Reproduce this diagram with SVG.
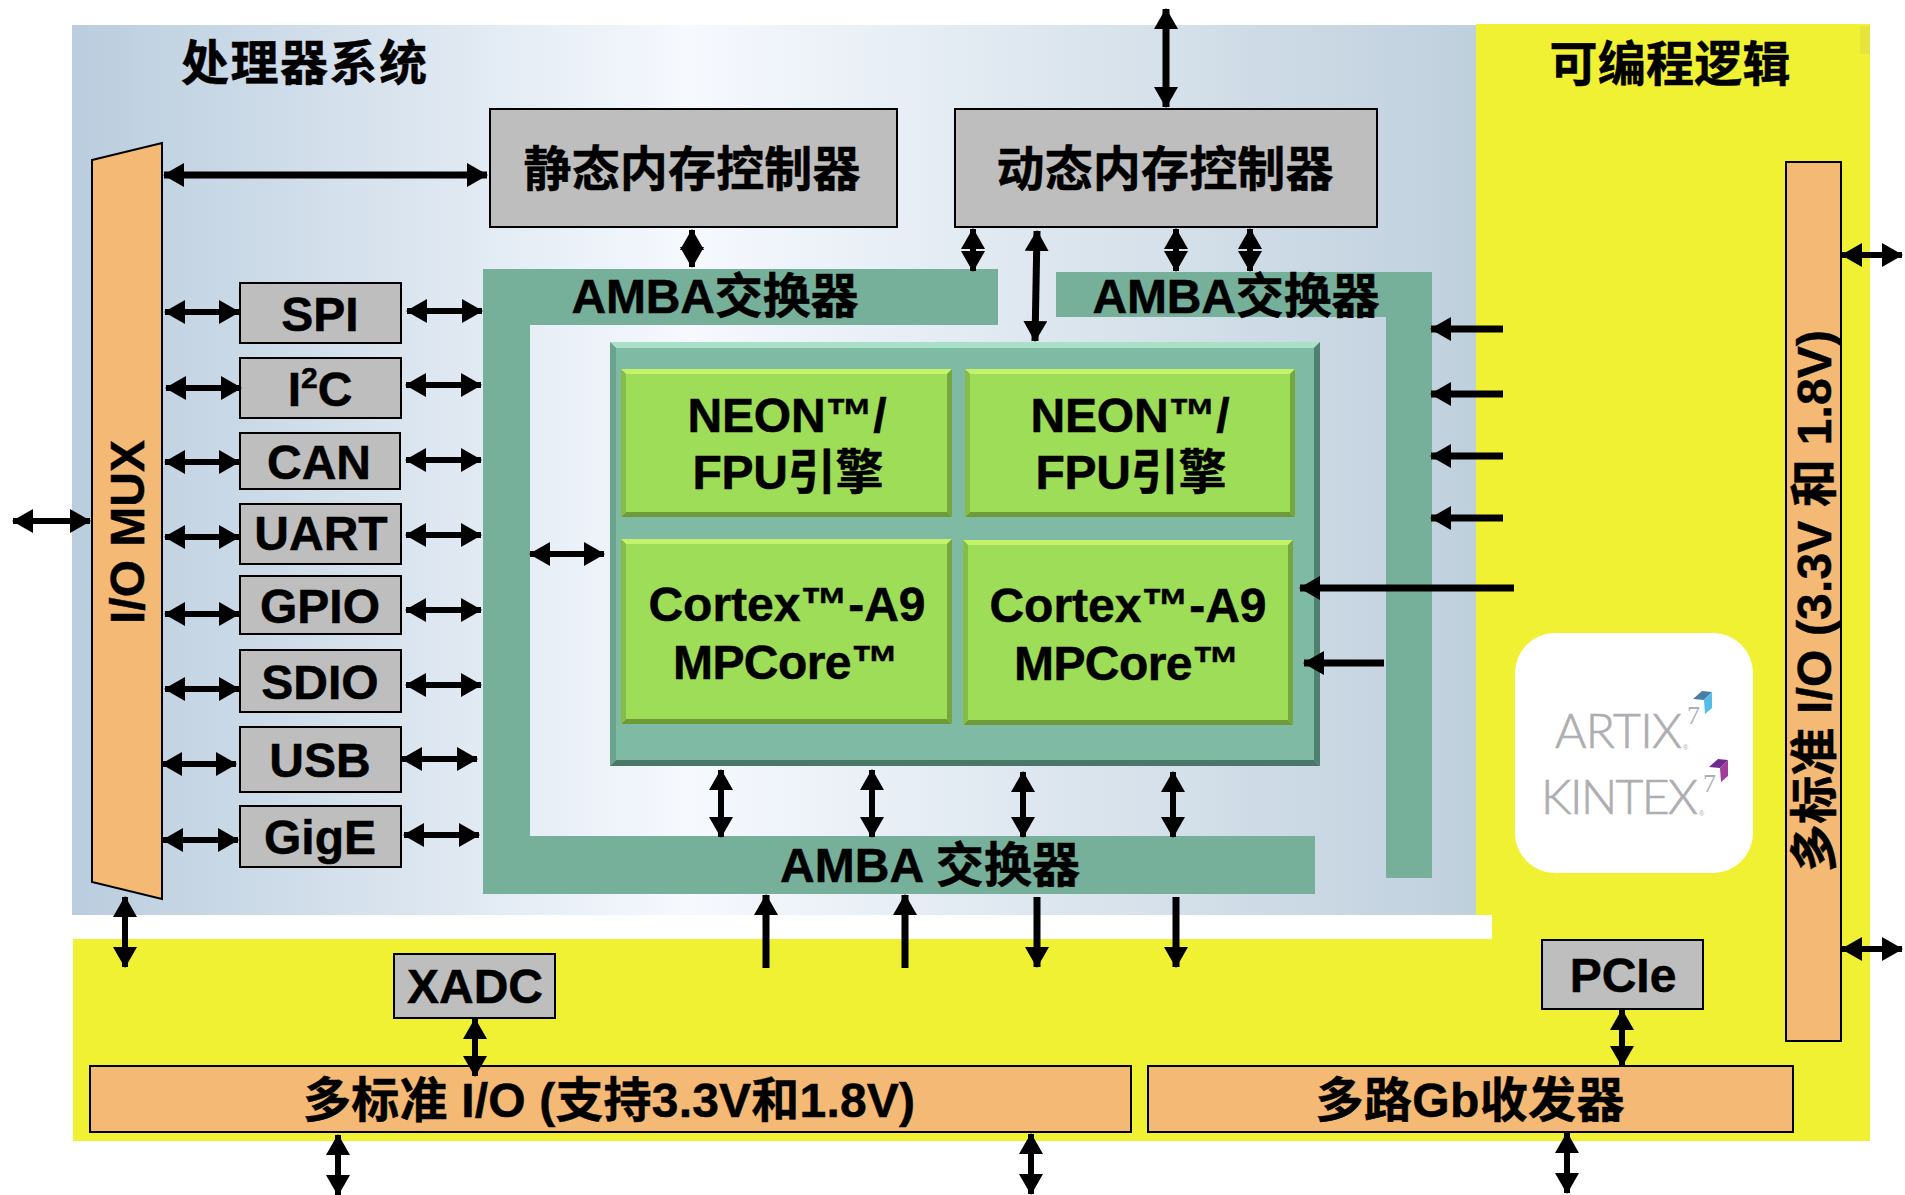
<svg xmlns="http://www.w3.org/2000/svg" width="1905" height="1195" viewBox="0 0 1905 1195">
<defs>
<linearGradient id="ps" x1="0" x2="1" y1="0" y2="0"><stop offset="0" stop-color="#bacdde"/><stop offset="0.44" stop-color="#f6f9fe"/><stop offset="1" stop-color="#bfd0dd"/></linearGradient>
<marker id="h" markerUnits="userSpaceOnUse" markerWidth="22" markerHeight="24" refX="20" refY="12" orient="auto-start-reverse"><polygon points="0,0 21,12 0,24" fill="#000"/></marker>
</defs>
<style>
text{font-family:"Liberation Sans","Noto Sans CJK SC",sans-serif;font-weight:700;fill:#000;stroke:#000;stroke-width:.5px;font-size:48px;text-anchor:middle}
.box{fill:#bebebe;stroke:#000;stroke-width:2}
.org{fill:#f4b974;stroke:#000;stroke-width:2}
.amba{fill:#76b09a}
.green{fill:#9edd57}
.a{stroke:#000;stroke-width:6;fill:none;marker-start:url(#h);marker-end:url(#h)}
.e{stroke:#000;stroke-width:6;fill:none;marker-end:url(#h)}
.th{stroke-width:7}
text.logo{font-family:Lato,"Liberation Sans",sans-serif;font-weight:300;fill:#aeaeb2;stroke:#aeaeb2;stroke-width:.7px;text-anchor:start}
text.seven{font-family:"Liberation Serif",serif;font-weight:400;fill:#aeaeb2;stroke:none;font-size:26px;text-anchor:start}
text.reg{font-weight:400;fill:#aeaeb2;stroke:none;font-size:7px;text-anchor:start}
</style>

<g id="background">
<polygon fill="#f0f133" points="1476,24 1870,24 1870,1141 73,1141 73,939 1492,939 1492,915 1476,915"/>
<rect x="1860" y="26" width="10" height="28" fill="#e4e43a"/>
<rect x="72" y="25" width="1404" height="890" fill="url(#ps)"/>
</g>

<g id="ps-title"><text x="304" y="80" textLength="246">处理器系统</text></g>
<g id="pl-title"><text x="1670" y="81" textLength="241">可编程逻辑</text></g>

<g id="amba-left"><polygon class="amba" points="483,269 998,269 998,325 530,325 530,836 1315,836 1315,894 483,894"/>
<text x="715" y="313" textLength="287">AMBA交换器</text>
<text x="930" y="882" textLength="300">AMBA 交换器</text></g>
<g id="amba-right"><polygon class="amba" points="1056,272 1432,272 1432,878 1386,878 1386,317 1056,317"/>
<text x="1236" y="313" textLength="287">AMBA交换器</text></g>

<g id="cluster">
<rect x="610" y="342" width="710" height="424" fill="#7fbba4"/>
<polygon fill="#a9e0c8" points="610,342 1320,342 1314,348 616,348"/>
<polygon fill="#4a7767" points="610,766 1320,766 1314,760 616,760"/>
<polygon fill="#6ba38e" points="610,342 616,348 616,760 610,766"/>
<polygon fill="#4f7f6e" points="1320,342 1314,348 1314,760 1320,766"/>
</g>

<g id="neon-1">
<rect class="green" x="621" y="369" width="331" height="148"/>
<polygon fill="#c4f26b" points="621,369 952,369 947,374 626,374"/><polygon fill="#6f9a3a" points="621,517 952,517 947,512 626,512"/><polygon fill="#86bd49" points="621,369 626,374 626,512 621,517"/><polygon fill="#76a63e" points="952,369 947,374 947,512 952,517"/>
<text x="787" y="432" textLength="199">NEON™/</text><text x="788" y="489" textLength="191">FPU引擎</text></g>
<g id="neon-2">
<rect class="green" x="965" y="369" width="330" height="148"/>
<polygon fill="#c4f26b" points="965,369 1295,369 1290,374 970,374"/><polygon fill="#6f9a3a" points="965,517 1295,517 1290,512 970,512"/><polygon fill="#86bd49" points="965,369 970,374 970,512 965,517"/><polygon fill="#76a63e" points="1295,369 1290,374 1290,512 1295,517"/>
<text x="1130" y="432" textLength="199">NEON™/</text><text x="1131" y="489" textLength="191">FPU引擎</text></g>
<g id="cortex-1">
<rect class="green" x="621" y="539" width="331" height="185"/>
<polygon fill="#c4f26b" points="621,539 952,539 947,544 626,544"/><polygon fill="#6f9a3a" points="621,724 952,724 947,719 626,719"/><polygon fill="#86bd49" points="621,539 626,544 626,719 621,724"/><polygon fill="#76a63e" points="952,539 947,544 947,719 952,724"/>
<text x="787" y="621" textLength="277">Cortex™-A9</text><text x="786" y="679" textLength="226">MPCore™</text></g>
<g id="cortex-2">
<rect class="green" x="963" y="540" width="330" height="185"/>
<polygon fill="#c4f26b" points="963,540 1293,540 1288,545 968,545"/><polygon fill="#6f9a3a" points="963,725 1293,725 1288,720 968,720"/><polygon fill="#86bd49" points="963,540 968,545 968,720 963,725"/><polygon fill="#76a63e" points="1293,540 1288,545 1288,720 1293,725"/>
<text x="1128" y="622" textLength="277">Cortex™-A9</text><text x="1127" y="680" textLength="226">MPCore™</text></g>

<g id="io-mux"><polygon class="org" points="92,160 162,143 162,899 92,882"/>
<text transform="translate(144,532) rotate(-90)" textLength="184">I/O MUX</text></g>
<g id="sram"><rect class="box" x="490" y="109" width="407" height="118"/><text x="692" y="186" textLength="337">静态内存控制器</text></g>
<g id="dram"><rect class="box" x="955" y="109" width="422" height="118"/><text x="1165" y="186" textLength="337">动态内存控制器</text></g>
<g id="spi"><rect class="box" x="240" y="283" width="161" height="60"/><text x="320" y="331">SPI</text></g>
<g id="i2c"><rect class="box" x="240" y="358" width="161" height="60"/><text x="320" y="406">I<tspan font-size="30" dy="-18">2</tspan><tspan dy="18">C</tspan></text></g>
<g id="can"><rect class="box" x="240" y="433" width="160" height="56"/><text x="319" y="479">CAN</text></g>
<g id="uart"><rect class="box" x="240" y="504" width="161" height="60"/><text x="321" y="550">UART</text></g>
<g id="gpio"><rect class="box" x="240" y="576" width="161" height="58"/><text x="320" y="623">GPIO</text></g>
<g id="sdio"><rect class="box" x="240" y="650" width="161" height="62"/><text x="320" y="699">SDIO</text></g>
<g id="usb"><rect class="box" x="240" y="727" width="161" height="65"/><text x="320" y="777">USB</text></g>
<g id="gige"><rect class="box" x="240" y="806" width="161" height="61"/><text x="320" y="854">GigE</text></g>
<g id="xadc"><rect class="box" x="394" y="954" width="161" height="64"/><text x="475" y="1003">XADC</text></g>
<g id="pcie"><rect class="box" x="1542" y="940" width="161" height="69"/><text x="1623" y="992">PCIe</text></g>
<g id="multi-io"><rect class="org" x="90" y="1066" width="1041" height="66"/><text x="609" y="1117" textLength="612">多标准 I/O (支持3.3V和1.8V)</text></g>
<g id="gb"><rect class="org" x="1148" y="1066" width="645" height="66"/><text x="1470" y="1117" textLength="309">多路Gb收发器</text></g>
<g id="right-io"><rect class="org" x="1786" y="162" width="55" height="879"/>
<text transform="translate(1831,601) rotate(-90)" textLength="542">多标准 I/O (3.3V 和 1.8V)</text></g>

<g id="logo"><rect x="1515" y="633" width="238" height="240" rx="40" fill="#fff"/>
<text class="logo" x="1555" y="748" font-size="61" textLength="127">ARTIX</text>
<text class="seven" x="1687" y="724">7</text><text class="reg" x="1683" y="750">®</text>
<polygon fill="#4a7ca6" points="1693,699 1702,691 1712,692 1704,700"/><polygon fill="#53bde8" points="1712,692 1712,708 1705,714 1704,700"/>
<text class="logo" x="1541" y="814" font-size="61" textLength="157">KINTEX</text>
<text class="seven" x="1703" y="792">7</text><text class="reg" x="1699" y="816">®</text>
<polygon fill="#6c2a8c" points="1709,767 1718,759 1728,760 1720,768"/><polygon fill="#a23d99" points="1728,760 1728,776 1721,782 1720,768"/>
</g>

<g id="connectors">
<path class="a th" d="M164,175H487"/>
<path class="a" d="M13,521H90"/>
<path class="a" d="M165,312H239"/><path class="a" d="M166,388H241"/><path class="a" d="M165,462H239"/><path class="a" d="M165,537H239"/><path class="a" d="M165,614H239"/><path class="a" d="M165,689H239"/><path class="a" d="M162,764H236"/><path class="a" d="M163,840H238"/>
<path class="a" d="M407,311H482"/><path class="a" d="M406,385H481"/><path class="a" d="M406,460H481"/><path class="a" d="M406,535H481"/><path class="a" d="M406,610H481"/><path class="a" d="M406,685H481"/><path class="a" d="M402,759H477"/><path class="a" d="M404,835H479"/>
<path class="a th" d="M1166,9V107"/>
<path class="a" d="M692,230V267"/><path class="a" d="M973,229V271"/><path class="a" d="M1176,229V271"/><path class="a" d="M1250,229V271"/>
<path class="a th" d="M1037,231L1035,341"/>
<path class="a" d="M530,554H604"/>
<path class="a" d="M721,770V837"/><path class="a" d="M872,770V837"/><path class="a" d="M1023,772V837"/><path class="a" d="M1173,772V837"/>
<path class="e th" d="M766,968V895"/><path class="e th" d="M905,968V895"/><path class="e th" d="M1037,897V967"/><path class="e th" d="M1176,897V967"/>
<path class="e th" d="M1503,329H1431"/><path class="e th" d="M1503,394H1431"/><path class="e th" d="M1503,456H1431"/><path class="e th" d="M1503,518H1431"/>
<path class="e th" d="M1514,588H1300"/><path class="e th" d="M1384,663H1304"/>
<path class="a" d="M125,897V967"/>
<path class="a" d="M475,1019V1076"/><path class="a" d="M1622,1010V1066"/>
<path class="a" d="M338,1135V1195"/><path class="a" d="M1031,1134V1194"/><path class="a" d="M1567,1133V1193"/>
<path class="a" d="M1842,255H1902"/><path class="a" d="M1842,949H1902"/>
</g>
</svg>
